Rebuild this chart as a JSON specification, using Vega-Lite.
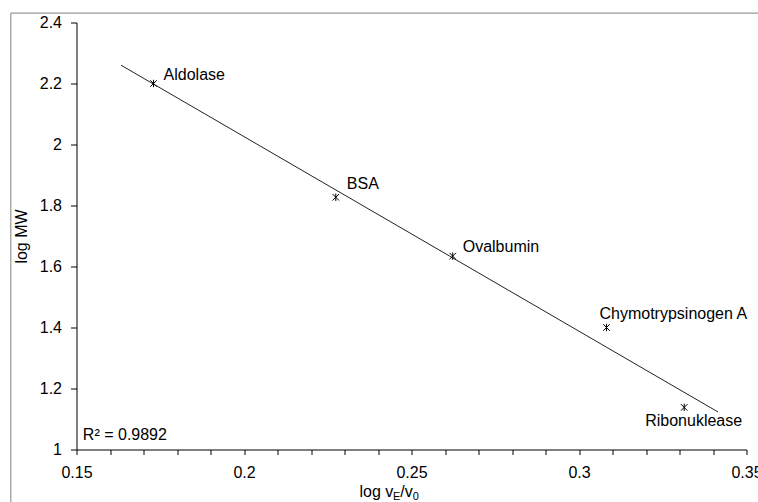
{
  "$schema": "https://vega.github.io/schema/vega-lite/v6.json",
  "width": 670,
  "height": 427,
  "autosize": {"type": "none"},
  "padding": {"left": 76.5, "top": 22.5, "right": 11.5, "bottom": 52.5},
  "background": "white",
  "config": {
    "view": {"stroke": null},
    "font": "Liberation Sans",
    "axis": {
      "grid": false,
      "domainColor": "black",
      "tickColor": "black",
      "labelColor": "black",
      "labelFont": "Liberation Sans",
      "labelFontSize": 16,
      "titleFont": "Liberation Sans",
      "titleFontSize": 16,
      "titleFontWeight": "normal",
      "titleColor": "black",
      "domainWidth": 1,
      "tickWidth": 1,
      "labelOverlap": false
    },
    "text": {"font": "Liberation Sans", "fontSize": 16, "color": "black"}
  },
  "datasets": {
    "proteins": [
      {"name": "Aldolase", "x": 0.1730, "y": 2.200},
      {"name": "BSA", "x": 0.2274, "y": 1.827},
      {"name": "Ovalbumin", "x": 0.2623, "y": 1.634},
      {"name": "Chymotrypsinogen A", "x": 0.3082, "y": 1.400},
      {"name": "Ribonuklease", "x": 0.3314, "y": 1.138}
    ],
    "trend": [
      {"x": 0.1633, "y": 2.260},
      {"x": 0.3415, "y": 1.123}
    ],
    "one": [{}]
  },
  "layer": [
    {
      "data": {"name": "one"},
      "mark": {"type": "rect", "fill": null, "stroke": "#808080", "strokeWidth": 1, "clip": false},
      "encoding": {
        "x": {"datum": 0.1304, "type": "quantitative", "scale": {"domain": [0.15, 0.35], "nice": false, "zero": false}},
        "x2": {"datum": 0.36},
        "y": {"datum": 2.4308, "type": "quantitative", "scale": {"domain": [1, 2.4], "nice": false, "zero": false}},
        "y2": {"datum": 0.8}
      }
    },
    {
      "data": {"name": "trend"},
      "mark": {"type": "line", "color": "#222222", "strokeWidth": 1},
      "encoding": {
        "x": {"field": "x", "type": "quantitative", "scale": {"domain": [0.15, 0.35], "nice": false, "zero": false},
          "axis": {
            "values": [0.15, 0.16, 0.17, 0.18, 0.19, 0.2, 0.21, 0.22, 0.23, 0.24, 0.25, 0.26, 0.27, 0.28, 0.29, 0.3, 0.31, 0.32, 0.33, 0.34, 0.35],
            "tickCount": 40,
            "labelExpr": "indexof(['0.15','0.2','0.25','0.3','0.35'], format(datum.value, '.2~f')) >= 0 ? format(datum.value, '.2~f') : ''",
            "tickSize": 5,
            "labelPadding": 10,
            "labelFlush": false,
            "labelOverlap": false,
            "title": null
          }},
        "y": {"field": "y", "type": "quantitative", "scale": {"domain": [1, 2.4], "nice": false, "zero": false},
          "axis": {
            "values": [1, 1.2, 1.4, 1.6, 1.8, 2, 2.2, 2.4],
            "tickCount": 20,
            "format": "~g",
            "tickSize": 6,
            "labelPadding": 9,
            "labelFlush": false,
            "labelOverlap": false,
            "title": "log MW",
            "titlePadding": 10
          }}
      }
    },
    {
      "data": {"name": "proteins"},
      "mark": {"type": "point", "shape": "M-1,-1L1,1M-1,1L1,-1M0,-1.15L0,1.15", "filled": false, "stroke": "black", "strokeWidth": 1, "size": 42, "opacity": 1},
      "encoding": {
        "x": {"field": "x", "type": "quantitative", "scale": {"domain": [0.15, 0.35], "nice": false, "zero": false}},
        "y": {"field": "y", "type": "quantitative", "scale": {"domain": [1, 2.4], "nice": false, "zero": false}}
      }
    },
    {
      "data": {"name": "proteins"},
      "transform": [{"filter": "datum.name === 'Aldolase'"}],
      "mark": {"type": "text", "align": "left", "baseline": "alphabetic", "dx": 10, "dy": -4},
      "encoding": {
        "x": {"field": "x", "type": "quantitative"},
        "y": {"field": "y", "type": "quantitative"},
        "text": {"field": "name"}
      }
    },
    {
      "data": {"name": "proteins"},
      "transform": [{"filter": "datum.name === 'BSA'"}],
      "mark": {"type": "text", "align": "left", "baseline": "alphabetic", "dx": 11, "dy": -8},
      "encoding": {
        "x": {"field": "x", "type": "quantitative"},
        "y": {"field": "y", "type": "quantitative"},
        "text": {"field": "name"}
      }
    },
    {
      "data": {"name": "proteins"},
      "transform": [{"filter": "datum.name === 'Ovalbumin'"}],
      "mark": {"type": "text", "align": "left", "baseline": "alphabetic", "dx": 10, "dy": -4},
      "encoding": {
        "x": {"field": "x", "type": "quantitative"},
        "y": {"field": "y", "type": "quantitative"},
        "text": {"field": "name"}
      }
    },
    {
      "data": {"name": "proteins"},
      "transform": [{"filter": "datum.name === 'Chymotrypsinogen A'"}],
      "mark": {"type": "text", "align": "left", "baseline": "alphabetic", "dx": -7, "dy": -9},
      "encoding": {
        "x": {"field": "x", "type": "quantitative"},
        "y": {"field": "y", "type": "quantitative"},
        "text": {"field": "name"}
      }
    },
    {
      "data": {"name": "proteins"},
      "transform": [{"filter": "datum.name === 'Ribonuklease'"}],
      "mark": {"type": "text", "align": "left", "baseline": "alphabetic", "dx": -39, "dy": 19},
      "encoding": {
        "x": {"field": "x", "type": "quantitative"},
        "y": {"field": "y", "type": "quantitative"},
        "text": {"field": "name"}
      }
    },
    {
      "data": {"name": "one"},
      "mark": {"type": "text", "align": "left", "baseline": "alphabetic", "text": "R² = 0.9892"},
      "encoding": {
        "x": {"datum": 0.1519, "type": "quantitative"},
        "y": {"datum": 1.031, "type": "quantitative"}
      }
    },
    {
      "data": {"name": "one"},
      "mark": {"type": "text", "align": "left", "baseline": "alphabetic", "text": "log v", "dx": -52},
      "encoding": {
        "x": {"datum": 0.25, "type": "quantitative"},
        "y": {"datum": 0.8443, "type": "quantitative"}
      }
    },
    {
      "data": {"name": "one"},
      "mark": {"type": "text", "align": "left", "baseline": "alphabetic", "text": "E", "fontSize": 11, "dx": -18.5, "dy": 3.5},
      "encoding": {
        "x": {"datum": 0.25, "type": "quantitative"},
        "y": {"datum": 0.8443, "type": "quantitative"}
      }
    },
    {
      "data": {"name": "one"},
      "mark": {"type": "text", "align": "left", "baseline": "alphabetic", "text": "/v", "dx": -11.2},
      "encoding": {
        "x": {"datum": 0.25, "type": "quantitative"},
        "y": {"datum": 0.8443, "type": "quantitative"}
      }
    },
    {
      "data": {"name": "one"},
      "mark": {"type": "text", "align": "left", "baseline": "alphabetic", "text": "0", "fontSize": 11, "dx": 1.2, "dy": 3.5},
      "encoding": {
        "x": {"datum": 0.25, "type": "quantitative"},
        "y": {"datum": 0.8443, "type": "quantitative"}
      }
    }
  ]
}
